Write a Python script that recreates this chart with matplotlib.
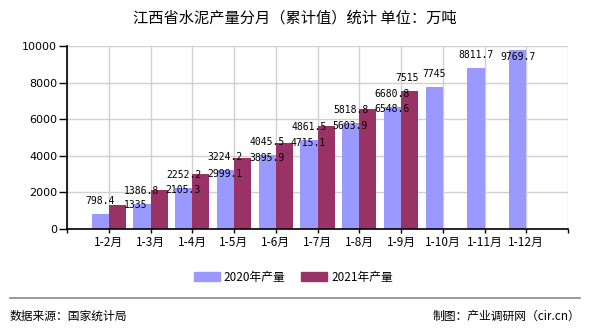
import numpy as np
import matplotlib
matplotlib.use('Agg')
import matplotlib.pyplot as plt
from matplotlib.patches import Patch

plt.rcParams['font.family'] = ['Noto Sans CJK SC', 'DejaVu Sans']

months = ['1-2月', '1-3月', '1-4月', '1-5月', '1-6月', '1-7月',
          '1-8月', '1-9月', '1-10月', '1-11月', '1-12月']
prod_2020 = [798.4, 1386.8, 2252.2, 3224.2, 4045.5, 4861.5,
             5818.8, 6680.8, 7745, 8811.7, 9769.7]
prod_2021 = [1335, 2105.3, 2999.1, 3895.9, 4715.1, 5603.9,
             6548.6, 7515]
yticks = [0, 2000, 4000, 6000, 8000, 10000]

c2020 = '#9999ff'
c2021 = '#993366'
w = 0.41

fig = plt.figure(figsize=(5.9, 3.3), dpi=100)
ax = fig.add_axes([67/590, 1-229/330, 501/590, 183/330])

x = np.arange(1, len(months) + 1)
x21 = x[:len(prod_2021)]
ax.bar(x - w/2, prod_2020, width=w, color=c2020, zorder=2)
ax.bar(x21 + w/2, prod_2021, width=w, color=c2021, zorder=2)

lab_font = dict(family='DejaVu Sans Mono', fontsize=7, color='black')
# labels pushed aside where they would collide or leave the plot
nudge20 = {10: (0, -20)}
nudge21 = {7: (-21, 13)}
for i, (xi, v) in enumerate(zip(x, prod_2020)):
    dx, dy = nudge20.get(i, (0, 0))
    ax.annotate(f'{v:g}', (xi - w/2, v), xytext=(dx, 8 + dy), textcoords='offset pixels',
                ha='center', va='bottom', zorder=4, **lab_font)
for i, (xi, v) in enumerate(zip(x21, prod_2021)):
    dx, dy = nudge21.get(i, (0, 0))
    ax.annotate(f'{v:g}', (xi + w, v), xytext=(-2 + dx, dy), textcoords='offset pixels',
                ha='left', va='center', zorder=4, **lab_font)

ax.set_xlim(0, len(months) + 1)
ax.set_ylim(0, 10000)
ax.set_xticks(np.arange(0, len(months) + 2))
ax.set_xticklabels([''] + months + [''], fontsize=8.5)
ax.set_yticks(yticks)
ax.set_yticklabels([str(t) for t in yticks], family='DejaVu Sans', fontsize=8)
ax.tick_params(axis='y', length=6, width=1, pad=1)
ax.tick_params(axis='x', length=3, width=1, pad=2)
ax.grid(True, color='#d0d0d0', linewidth=1, zorder=0)
ax.set_axisbelow(True)
for s in ['top', 'right']:
    ax.spines[s].set_visible(False)
for s in ['left', 'bottom']:
    ax.spines[s].set_linewidth(1.2)
    ax.spines[s].set_zorder(3)

fig.text(0.5, 1-18/330, '江西省水泥产量分月（累计值）统计 单位：万吨',
         ha='center', va='center', fontsize=11)

handles = [Patch(color=c2020, label='2020年产量'), Patch(color=c2021, label='2021年产量')]
fig.legend(handles=handles, loc='center', bbox_to_anchor=(0.497, 1-277/330), ncol=2,
           frameon=False, fontsize=8.5, handlelength=2.2, handleheight=0.8,
           handletextpad=0.3, columnspacing=1.4)

fig.add_artist(plt.Line2D([10/590, 580/590], [1-298/330, 1-298/330],
                          color='#888888', linewidth=1.2))
fig.text(10/590, 1-316/330, '数据来源：国家统计局', ha='left', va='center', fontsize=8.5)
fig.text(580/590, 1-316/330, '制图：产业调研网（cir.cn）', ha='right', va='center', fontsize=8.5)

fig.savefig('out.png', dpi=100)
